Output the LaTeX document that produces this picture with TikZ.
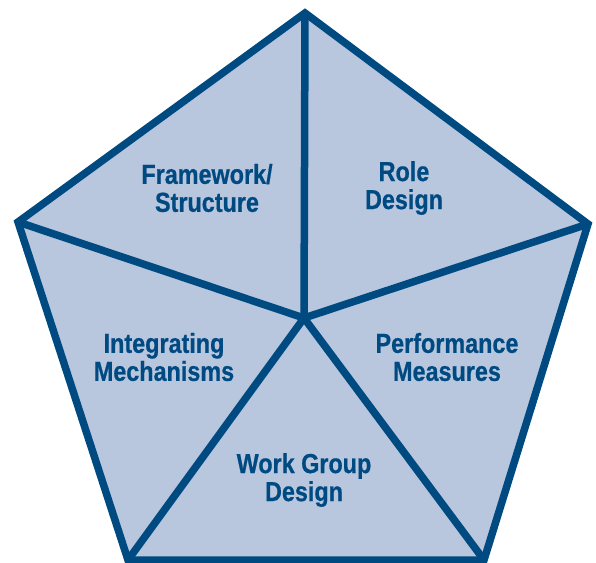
\documentclass[tikz,border=0pt]{standalone}
\usepackage{fontspec}
\setmainfont{Liberation Sans}[FakeStretch=0.85]
\newfontfamily\lblfont{Liberation Sans Bold}[FakeStretch=0.85,FakeBold=0.6]
\definecolor{pfill}{HTML}{B8C6DE}
\definecolor{pline}{HTML}{004A82}
\tikzset{
  edge/.style={draw=pline, line width=7.5pt, line join=miter, line cap=butt},
  lbl/.style={text=pline, font=\lblfont\fontsize{27.5}{28}\selectfont, align=center, inner sep=0pt}
}
\begin{document}
\begin{tikzpicture}[x=1pt,y=-1pt]
\useasboundingbox (0,0) rectangle (596,562);
\clip (0,0) rectangle (596,562);
\coordinate (T) at (305,13);
\coordinate (R) at (588,224);
\coordinate (BR) at (484,560);
\coordinate (BL) at (128,560);
\coordinate (L) at (18,222);
\coordinate (C) at (304,318);
\fill[pfill] (T) -- (R) -- (BR) -- (BL) -- (L) -- cycle;
\draw[edge] (C) -- (T);
\draw[edge] (C) -- (R);
\draw[edge] (C) -- (BR);
\draw[edge] (C) -- (BL);
\draw[edge] (C) -- (L);
\draw[edge] (T) -- (R) -- (BR) -- (BL) -- (L) -- cycle;
\node[lbl] (fs) at (207,188) {Framework/\\Structure};
\node[lbl] (rd) at (404,188) {Role\\Design};
\node[lbl] (im) at (164,357) {Integrating\\Mechanisms};
\node[lbl] (pm) at (447,357) {Performance\\Measures};
\node[lbl] (wg) at (304,480) {Work Group\\Design};
\end{tikzpicture}
\end{document}
